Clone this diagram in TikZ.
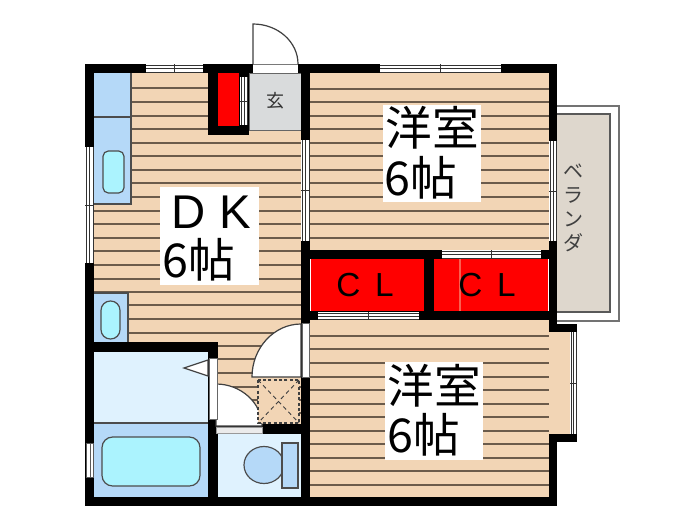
\documentclass[tikz,border=0pt]{standalone}
\usepackage{fontspec}
\setmainfont{Liberation Sans}
\newfontfamily\cjk{Noto Sans CJK JP}
\definecolor{wood}{HTML}{F2D5B5}
\definecolor{boards}{HTML}{6B5B4B}
\definecolor{counter}{HTML}{B5D9F8}
\definecolor{sinkc}{HTML}{ABF3FE}
\definecolor{pale}{HTML}{DFF2FE}
\definecolor{deck}{HTML}{DED7CD}
\definecolor{hall}{HTML}{D9DBDC}
\tikzset{
 wall/.style={fill=black,draw=none},
 floorarea/.style={fill=wood,draw=none},
 boardline/.style={draw=boards,line width=0.9pt},
 fixture/.style={draw=black!70,line width=0.9pt},
 doorleaf/.style={fill=white,draw=black!75,line width=0.9pt},
 bigcjk/.style={inner sep=0pt,font=\cjk\fontsize{35}{35}\selectfont,text=black},
 biglatin/.style={inner sep=0pt,font=\fontsize{35.5}{35.5}\selectfont,text=black},
 cltext/.style={inner sep=0pt,font=\fontsize{25}{25}\selectfont,text=black},
}
\newcommand{\hwin}[4]{% x1,x2,y1,y2
 \fill[white] (#1,#3) rectangle (#2,#4);
 \draw[black!80,line width=0.7pt] (#1,#3+1) -- (#2,#3+1) (#1,#4-1) -- (#2,#4-1) (#1,{(#3+#4)/2}) -- (#2,{(#3+#4)/2});
 \draw[black!80,line width=0.7pt] ({(#1+#2)/2},#3) -- ({(#1+#2)/2},#4);
}
\newcommand{\vwin}[4]{% x1,x2,y1,y2
 \fill[white] (#1,#3) rectangle (#2,#4);
 \draw[black!80,line width=0.7pt] (#1+1,#3) -- (#1+1,#4) (#2-1,#3) -- (#2-1,#4) ({(#1+#2)/2},#3) -- ({(#1+#2)/2},#4);
 \draw[black!80,line width=0.7pt] (#1,{(#3+#4)/2}) -- (#2,{(#3+#4)/2});
}
\begin{document}
\begin{tikzpicture}[x=0.75pt,y=-0.75pt]
\useasboundingbox (0,0) rectangle (700,525);
\fill[white] (0,0) rectangle (700,525);
% balcony
\draw[black!55,line width=0.8pt] (557,106) -- (619,106) -- (619,321) -- (557,321);
\fill[deck] (557,114) rectangle (610,312);
\draw[black!65,line width=0.9pt] (557,114) -- (610,114) -- (610,312) -- (557,312);
% floors
\fill[floorarea] (94,73) rectangle (301,342);
\fill[floorarea] (218,342) rectangle (301,424);
\fill[floorarea] (310,73) rectangle (549,250);
\fill[floorarea] (310,320) rectangle (549,497);
\fill[floorarea] (549,332) rectangle (570,434);
% floor boards
\foreach \y in {88,102,116,129,143,156,170,183,197,211,224,238,251,265,279,292,305,319,333}
 \draw[boardline] (94,\y) -- (301,\y);
\foreach \y in {346,359,373,387,400,413}
 \draw[boardline] (218,\y) -- (301,\y);
\foreach \y in {89,102,116,129,143,156,170,183,197,211,224,238}
 \draw[boardline] (310,\y) -- (549,\y);
\foreach \y in {336,349,363,377,390,404,417,431,444,458,471,485}
 \draw[boardline] (310,\y) -- (549,\y);
% hall
\fill[hall] (249,73) rectangle (301,130);
\draw[black!60,line width=0.7pt] (249,73) rectangle (301,130);
% kitchen fixtures
\fill[counter] (94,73) rectangle (131,204);
\draw[fixture] (94,117) -- (131,117) (131,73) -- (131,204) -- (94,204);
\draw[fixture,fill=sinkc,rounded corners=4pt] (103,151) rectangle (124,193);
\fill[counter] (94,293) rectangle (128,342);
\draw[fixture] (94,293) -- (128,293) -- (128,342);
\draw[fixture,fill=sinkc,rounded corners=7pt] (101,301) rectangle (120,339);
% bath rooms
\fill[pale] (94,352) rectangle (208,423);
\fill[counter] (94,423) rectangle (208,497);
\draw[fixture] (94,423) -- (208,423);
\draw[fixture,fill=sinkc,rounded corners=8pt] (102,437) rectangle (200,486);
\fill[pale] (218,434) rectangle (301,497);
\draw[fixture,fill=counter] (264,465) ellipse (20 and 18.5);
\draw[fixture,fill=counter] (282,443) rectangle (298,488);
% closets
\fill[red] (311,259) rectangle (424,311);
\fill[red] (434,259) rectangle (548,311);
\draw[red!55!wood,line width=1pt] (460,259) -- (460,311);
% walls
\fill[wall] (85,64) rectangle (557,73);
\fill[wall] (85,64) rectangle (94,506);
\fill[wall] (85,497) rectangle (557,506);
\fill[wall] (549,64) rectangle (557,332);
\fill[wall] (549,434) rectangle (557,506);
\fill[wall] (301,64) rectangle (310,506);
\fill[wall] (85,342) rectangle (218,352);
\fill[wall] (208,342) rectangle (218,506);
\fill[wall] (216,424) rectangle (301,434);
\fill[wall] (301,250) rectangle (557,259);
\fill[wall] (301,311) rectangle (557,320);
\fill[wall] (424,250) rectangle (434,320);
\fill[wall] (549,324) rectangle (577,332);
\fill[wall] (549,434) rectangle (577,442);
% closet niche walls
\fill[wall] (208,64) rectangle (218,135);
\fill[wall] (208,126) rectangle (249,135);
\fill[wall] (239,64) rectangle (249,135);
\fill[red] (218,73) rectangle (239,126);
% windows
\hwin{146}{203}{64}{73}
\hwin{380}{501}{64}{73}
\hwin{442}{541}{250}{259}
\hwin{318}{419}{312}{320}
\vwin{85}{94}{147}{263}
\vwin{301}{310}{140}{241}
\vwin{549}{557}{141}{241}
\vwin{570}{577}{332}{434}
\vwin{240}{248}{77}{125}
\fill[white] (86,443) rectangle (93,477);
\draw[black!65,line width=0.7pt] (86,443) rectangle (93,477) (90,443) -- (90,477);
% entry door
\fill[white] (253,64) rectangle (298,73);
\draw[black!60,line width=0.7pt] (253,64) -- (298,64);
\draw[doorleaf] (253,64) -- (253,24) .. controls (278,24) and (298,42) .. (298,64);
% inner doors
\draw[doorleaf] (301,324) .. controls (274,324) and (252,348) .. (252,377) -- (301,377) -- cycle;
\fill[white] (302,323) rectangle (309,377);
\draw[black!60,line width=0.6pt] (302,323) rectangle (309,377);
\draw[doorleaf] (216,384) .. controls (241,384) and (262,403) .. (262,426) -- (216,426) -- cycle;
\fill[white] (209,358) rectangle (217,419);
\draw[black!60,line width=0.6pt] (209,358) rectangle (217,419);
\fill[white!92!black] (216,427) rectangle (262,433);
\draw[black!40,line width=0.6pt] (216,427) rectangle (262,433);
\draw[doorleaf] (208,360) -- (184,368) -- (208,376) -- cycle;
% dotted square
\fill[wood] (258,380) rectangle (299,423);
\draw[black!75,dash pattern=on 2.2pt off 1.8pt,line width=1pt] (258,380) rectangle (299,423);
\draw[black!75,dash pattern=on 3pt off 2.5pt,line width=0.7pt] (258,380) -- (299,423) (299,380) -- (258,423);
% white boxes under the room labels
\fill[white] (160,187) rectangle (259,285);
\fill[white] (383,105) rectangle (481,202);
\fill[white] (385,362) rectangle (483,460);
% labels
\node[inner sep=0pt,font=\cjk\fontsize{13.5}{13.5}\selectfont,text=black!80] (genkan) at (275,101) {玄};
\node[biglatin] (dkt) at (211,212) {D\hspace{10.5pt}K};
\node[bigcjk,anchor=west] (dks) at (162,260) {6帖};
\node[bigcjk] (w1a) at (432,128) {洋室};
\node[bigcjk,anchor=west] (w1b) at (384,178) {6帖};
\node[bigcjk] (w2a) at (434,386) {洋室};
\node[bigcjk,anchor=west] (w2b) at (387,435) {6帖};
\node[cltext] (cl1) at (365,285) {C\hspace{11pt}L};
\node[cltext] (cl2) at (487,285) {C\hspace{11pt}L};
\node[inner sep=0pt,font=\cjk\fontsize{15}{18}\selectfont,text=black!75,align=center] (ver) at (573,208) {ベ\\ラ\\ン\\ダ};
\end{tikzpicture}
\end{document}
